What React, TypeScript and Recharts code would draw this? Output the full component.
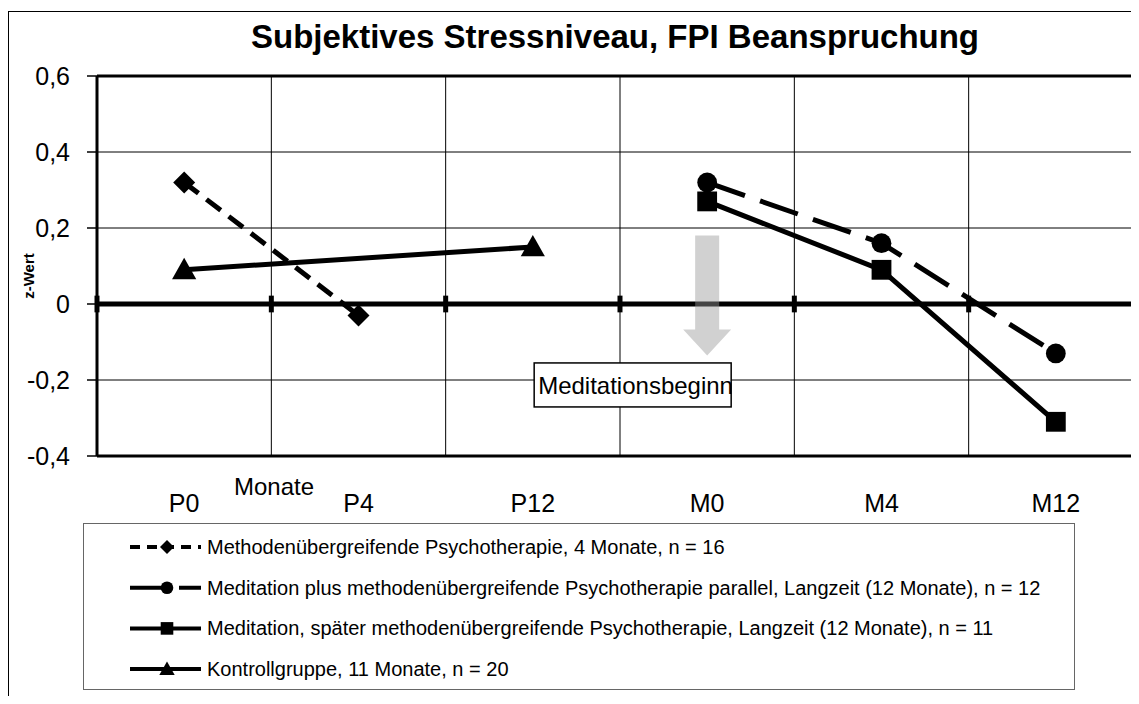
import {
  Legend,
  Line,
  LineChart,
  CartesianGrid,
  ReferenceDot,
  ReferenceLine,
  XAxis,
  YAxis,
} from "recharts";

const FONT = "'Liberation Sans', Arial, Helvetica, sans-serif";

const categories = ["P0", "P4", "P12", "M0", "M4", "M12"];
const psychotherapie4 = [0.32, -0.03, null, null, null, null];
const meditationParallel = [null, null, null, 0.32, 0.16, -0.13];
const meditationSpaeter = [null, null, null, 0.27, 0.09, -0.31];
const kontrollgruppe = [0.09, null, 0.15, null, null, null];

const seriesNames = [
  "Methodenübergreifende Psychotherapie, 4 Monate, n = 16",
  "Meditation plus methodenübergreifende Psychotherapie parallel, Langzeit (12 Monate), n = 12",
  "Meditation, später methodenübergreifende Psychotherapie, Langzeit (12 Monate), n = 11",
  "Kontrollgruppe, 11 Monate, n = 20",
];

const yTicks = [0.6, 0.4, 0.2, 0, -0.2, -0.4];
const xTicks = categories.map((_, i) => i + 0.5);
const boundaries = [1, 2, 3, 4, 5];
const zeroTicks = [0, 1, 2, 3, 4, 5];

const rows = categories.map((label, i) => ({
  pos: i + 0.5,
  label,
  psy4: psychotherapie4[i],
  medPar: meditationParallel[i],
  medSpaet: meditationSpaeter[i],
  kontrolle: kontrollgruppe[i],
}));

type Marker = "diamond" | "circle" | "square" | "triangle";

function markerPath(kind: Marker, cx: number, cy: number, s: number) {
  switch (kind) {
    case "diamond":
      return <path d={`M${cx},${cy - s}L${cx + s},${cy}L${cx},${cy + s}L${cx - s},${cy}Z`} fill="#000" />;
    case "circle":
      return <circle cx={cx} cy={cy} r={s * 0.9} fill="#000" />;
    case "square":
      return <rect x={cx - s * 0.9} y={cy - s * 0.9} width={s * 1.8} height={s * 1.8} fill="#000" />;
    default:
      return (
        <path
          d={`M${cx},${cy - s * 1.1}L${cx + s * 1.1},${cy + s * 0.85}L${cx - s * 1.1},${cy + s * 0.85}Z`}
          fill="#000"
        />
      );
  }
}

const dotOf = (kind: Marker) => (props: any) => {
  const { cx, cy, index } = props;
  if (cx == null || cy == null || props.value == null) return <g key={`d-${index}`} />;
  return <g key={`d-${index}`}>{markerPath(kind, cx, cy, 11)}</g>;
};

const series = [
  { key: "psy4", dash: "18 10", legendDash: "10 7", marker: "diamond" as Marker },
  { key: "medPar", dash: "40 16", legendDash: "40 9", marker: "circle" as Marker },
  { key: "medSpaet", dash: undefined, legendDash: undefined, marker: "square" as Marker },
  { key: "kontrolle", dash: undefined, legendDash: undefined, marker: "triangle" as Marker },
];

function LegendBox() {
  return (
    <div
      style={{
        width: 992,
        height: 167,
        border: "1.5px solid #666",
        boxSizing: "border-box",
        background: "#fff",
      }}
    >
      <svg width={990} height={164}>
        {series.map((s, i) => {
          const y = 23 + i * 40.7;
          return (
            <g key={s.key}>
              <line x1={46} x2={117} y1={y} y2={y} stroke="#000" strokeWidth={4} strokeDasharray={s.legendDash} />
              {markerPath(s.marker, 83, y, 7)}
              <text x={123} y={y + 7} fontSize={20} fontFamily={FONT} fill="#000">
                {seriesNames[i]}
              </text>
            </g>
          );
        })}
      </svg>
    </div>
  );
}

const fmt = (v: number) => String(v).replace(".", ",");

export default function App() {
  return (
    <div style={{ position: "relative", width: 1131, height: 696, marginBottom: -8, overflow: "hidden", background: "#fff" }}>
      <div
        style={{
          position: "absolute",
          left: 0,
          top: 3,
          width: 1300,
          height: 1000,
          border: "1.5px solid #000",
        }}
      />
      <div
        style={{
          position: "absolute",
          left: 607,
          top: 12,
          transform: "translateX(-50%)",
          whiteSpace: "nowrap",
          fontFamily: FONT,
          fontWeight: "bold",
          fontSize: 33,
          lineHeight: 1,
        }}
      >
        Subjektives Stressniveau, FPI Beanspruchung
      </div>
      <div style={{ position: "absolute", left: 0, top: 0 }}>
        <LineChart
          width={1150}
          height={696}
          data={rows}
          margin={{ top: 68, right: 15, left: 0, bottom: 188 }}
        >
          <CartesianGrid vertical={false} stroke="#000" strokeWidth={1} />
          {boundaries.map((b) => (
            <ReferenceLine key={`v${b}`} x={b} stroke="#000" strokeWidth={1} />
          ))}
          <XAxis
            dataKey="pos"
            type="number"
            domain={[0, 6]}
            ticks={xTicks}
            tickFormatter={(v) => categories[Math.floor(v)]}
            tick={{ fontSize: 25, fill: "#000", fontFamily: FONT }}
            tickLine={false}
            tickSize={0}
            tickMargin={38}
            height={60}
            axisLine={{ stroke: "#000", strokeWidth: 3 }}
            label={{
              content: ({ viewBox }: any) => (
                <text
                  x={viewBox.x + 177}
                  y={viewBox.y + 39}
                  textAnchor="middle"
                  fontSize={24}
                  fontFamily={FONT}
                  fill="#000"
                >
                  Monate
                </text>
              ),
            }}
          />
          <YAxis
            type="number"
            domain={[-0.4, 0.6]}
            ticks={yTicks}
            tickFormatter={fmt}
            width={89}
            tick={{ fontSize: 25, fill: "#000", fontFamily: FONT }}
            tickSize={10}
            tickMargin={17}
            tickLine={{ stroke: "#000", strokeWidth: 1.5 }}
            axisLine={{ stroke: "#000", strokeWidth: 3 }}
            label={{
              content: ({ viewBox }: any) => {
                const x = viewBox.x + 20;
                const y = viewBox.y + viewBox.height / 2 + 10;
                return (
                  <text
                    x={x}
                    y={y}
                    transform={`rotate(-90, ${x}, ${y})`}
                    textAnchor="middle"
                    dominantBaseline="central"
                    fontSize={15}
                    fontWeight="bold"
                    fontFamily={FONT}
                    fill="#000"
                  >
                    z-Wert
                  </text>
                );
              },
            }}
          />
          <ReferenceLine y={0.6} stroke="#000" strokeWidth={3} />
          <ReferenceLine y={0} stroke="#000" strokeWidth={5} />
          {zeroTicks.map((t) => (
            <ReferenceLine
              key={`t${t}`}
              segment={[
                { x: t, y: -0.022 },
                { x: t, y: 0.022 },
              ]}
              stroke="#000"
              strokeWidth={5}
              ifOverflow="visible"
            />
          ))}
          <ReferenceDot
            x={3.5}
            y={0.18}
            r={1}
            shape={(p: any) => (
              <path
                d={`M${p.cx - 12},${p.cy}H${p.cx + 12}V${p.cy + 94}H${p.cx + 24}L${p.cx},${p.cy + 120}L${p.cx - 24},${p.cy + 94}H${p.cx - 12}Z`}
                fill="#999"
                fillOpacity={0.45}
              />
            )}
          />
          <ReferenceDot
            x={3.5}
            y={-0.213}
            r={1}
            shape={(p: any) => (
              <g>
                <rect x={p.cx - 173} y={p.cy - 22} width={197} height={44} fill="#fff" stroke="#000" strokeWidth={1.5} />
                <text x={p.cx - 169} y={p.cy + 9} fontSize={24} fontFamily={FONT} fill="#000">
                  Meditationsbeginn
                </text>
              </g>
            )}
          />
          {series.map((s) => (
            <Line
              key={s.key}
              dataKey={s.key}
              type="linear"
              stroke="#000"
              strokeWidth={5}
              strokeDasharray={s.dash}
              dot={dotOf(s.marker)}
              activeDot={false}
              connectNulls
              isAnimationActive={false}
            />
          ))}
          <Legend
            layout="vertical"
            align="center"
            verticalAlign="middle"
            wrapperStyle={{ left: 75, top: 515, width: 992, height: 167 }}
            content={() => <LegendBox />}
          />
        </LineChart>
      </div>
    </div>
  );
}
